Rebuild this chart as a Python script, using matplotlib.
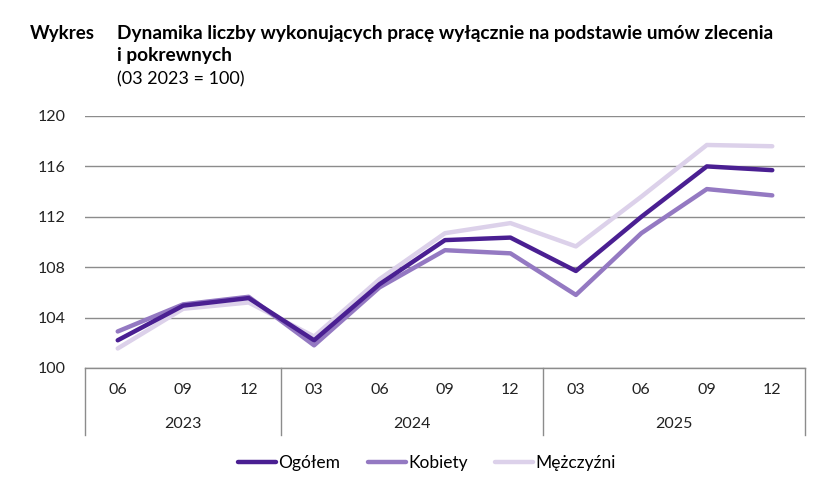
import matplotlib.pyplot as plt
import matplotlib.transforms as mtransforms

plt.rcParams['font.family'] = ['Lato', 'DejaVu Sans']

months = ["06", "09", "12", "03", "06", "09", "12", "03", "06", "09", "12"]
years = ["2023", "2024", "2025"]
year_counts = [3, 4, 4]

ogolem = [102.2, 104.95, 105.55, 102.2, 106.65, 110.15, 110.35, 107.7, 112.0, 116.0, 115.7]
kobiety = [102.9, 105.05, 105.65, 101.8, 106.4, 109.35, 109.1, 105.8, 110.7, 114.2, 113.7]
mezczyzni = [101.55, 104.7, 105.2, 102.5, 107.05, 110.7, 111.5, 109.65, 113.6, 117.7, 117.6]

c_og = "#4a1f92"
c_kob = "#9479c2"
c_mez = "#dcd1ea"

fig = plt.figure(figsize=(8.29, 4.8), dpi=100)
ax = fig.add_axes([85 / 829, 112 / 480, 720 / 829, 252 / 480])

x = list(range(len(months)))
ax.plot(x, mezczyzni, color=c_mez, lw=3.2, solid_capstyle='round', label="Mężczyźni", zorder=3)
ax.plot(x, kobiety, color=c_kob, lw=3.2, solid_capstyle='round', label="Kobiety", zorder=4)
ax.plot(x, ogolem, color=c_og, lw=3.2, solid_capstyle='round', label="Ogółem", zorder=5)

ax.set_xlim(-0.5, len(months) - 0.5)
ax.set_ylim(100, 120)
ax.set_yticks([100, 104, 108, 112, 116, 120])
ax.yaxis.grid(True, color="#8c8c8c", lw=1)
ax.axhline(100, color="#8c8c8c", lw=1, clip_on=False, zorder=1)
ax.set_axisbelow(True)
for s in ax.spines.values():
    s.set_visible(False)
ax.tick_params(axis='y', length=0, pad=14, labelsize=11.5, labelcolor="#222222")
ax.set_xticks([])

# category table under the axis
trans = mtransforms.blended_transform_factory(ax.transData, ax.transAxes)
for i, m in enumerate(months):
    ax.text(i, -0.087, m, transform=trans, ha='center', va='center', fontsize=11.5, color="#222222")
edges = [-0.5]
for n in year_counts:
    edges.append(edges[-1] + n)
for e in edges:
    ax.plot([e, e], [0, -0.266], transform=trans, color="#8c8c8c", lw=1, clip_on=False)
for k, yr in enumerate(years):
    ax.text((edges[k] + edges[k + 1]) / 2, -0.222, yr, transform=trans,
            ha='center', va='center', fontsize=11.5, color="#222222")

# titles
fig.text(30 / 829, 1 - 33 / 480, "Wykres", fontsize=13.5, fontweight='bold', va='center')
fig.text(117 / 829, 1 - 33 / 480, "Dynamika liczby wykonujących pracę wyłącznie na podstawie umów zlecenia",
         fontsize=13.8, fontweight='bold', va='center')
fig.text(117 / 829, 1 - 56 / 480, "i pokrewnych", fontsize=13.8, fontweight='bold', va='center')
fig.text(117 / 829, 1 - 79 / 480, "(03 2023 = 100)", fontsize=13, va='center')

h, l = ax.get_legend_handles_labels()
order = [2, 1, 0]
fig.legend([h[i] for i in order], [l[i] for i in order], loc='center',
           bbox_to_anchor=(0.515, 0.035), ncol=3, frameon=False, fontsize=12.5,
           handlelength=2.2, handletextpad=0.1, columnspacing=1.6)

fig.savefig("out.png", dpi=100)
